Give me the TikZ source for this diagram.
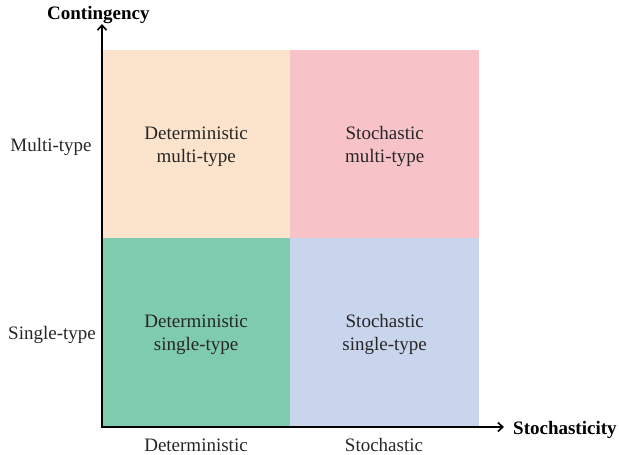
\documentclass[tikz,border=0pt]{standalone}
\usepackage{fontspec}
\setmainfont{Liberation Serif}
\usetikzlibrary{arrows.meta}
\definecolor{cpeach}{HTML}{FCE3CC}
\definecolor{cpink}{HTML}{F8C3C8}
\definecolor{cgreen}{HTML}{7FCBAE}
\definecolor{cblue}{HTML}{C9D5EC}
\definecolor{ctext}{HTML}{262626}
\begin{document}
\begin{tikzpicture}[x=1pt,y=-1pt,
  cell/.style={draw=none,inner sep=0pt,minimum width=188pt,minimum height=188pt,anchor=north west},
  celltext/.style={align=center,text=ctext,inner sep=0pt,font=\fontsize{19}{23}\selectfont},
  lab/.style={text=ctext,font=\fontsize{19}{23}\selectfont,inner sep=0pt},
  axlab/.style={text=black,font=\bfseries\fontsize{19}{23}\selectfont,inner sep=0pt},
  axis/.style={line width=2pt,-{Straight Barb[length=5pt,width=9pt,line width=1.6pt]}}]
\useasboundingbox (0,0) rectangle (619,455);
\node[cell,fill=cpeach] (dm) at (102,50) {};
\node[cell,fill=cpink,minimum width=189pt] (sm) at (290,50) {};
\node[cell,fill=cgreen] (ds) at (102,238) {};
\node[cell,fill=cblue,minimum width=189pt] (ss) at (290,238) {};
\node[celltext] (dmt) at ([yshift=-2.5pt]dm.center) {Deterministic\\multi-type};
\node[celltext] (smt) at ([yshift=-2.5pt]sm.center) {Stochastic\\multi-type};
\node[celltext] (dst) at ([yshift=-2.5pt]ds.center) {Deterministic\\single-type};
\node[celltext] (sst) at ([yshift=-2.5pt]ss.center) {Stochastic\\single-type};
\coordinate (o) at (102,427);
\coordinate (ytip) at (102,24);
\coordinate (xtip) at (504,427);
\draw[axis] ([xshift=-1pt]o) -- (xtip);
\draw[axis] ([yshift=1pt]o) -- (ytip);
\node[lab] (mt) at (51,147) {Multi-type};
\node[lab] (st) at (52,335) {Single-type};
\node[lab] (dl) at (196,445) {Deterministic};
\node[lab] (sl) at (384,445) {Stochastic};
\node[axlab,anchor=west] (cy) at (47,15) {Contingency};
\node[axlab,anchor=west] (sx) at (513,430) {Stochasticity};
\end{tikzpicture}
\end{document}
